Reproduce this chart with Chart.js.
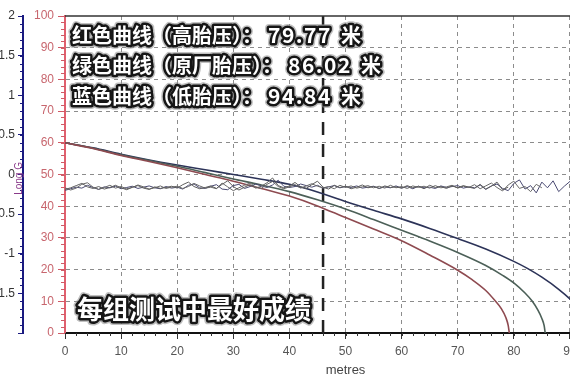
<!DOCTYPE html>
<html><head><meta charset="utf-8">
<script src="https://cdn.jsdelivr.net/npm/chart.js@4/dist/chart.umd.min.js"></script>
<style>
html,body{margin:0;padding:0;overflow:hidden;background:#fff;width:570px;height:380px}
#c{position:absolute;left:0;top:0}
</style></head>
<body><canvas id="c" width="631" height="380"></canvas>
<script>
// ---- data ----
const redDist   = [0,5,10,15,20,25,30,35,40,45,50,55,60,65,70,72.5,75,76.6,77.8,78.6,79.0,79.2];
const redSpeed  = [60,58.2,56.0,54.1,52.1,50.0,47.9,45.6,43.2,40.1,36.4,32.8,29.1,24.6,19.8,16.9,13.4,10.3,7.6,4.8,2.4,0];
const greenDist = [0,5,10,15,20,25,30,35,40,45,50,55,60,65,70,75,78,80,82,83.3,84.3,85,85.4,85.6];
const greenSpeed= [60,58.3,56.2,54.4,52.6,50.6,48.6,46.7,44.6,42.0,39.1,35.8,32.4,29.0,25.4,21.3,18.2,15.8,12.6,10.0,7.2,4.6,2.4,0];
const blueDist  = [0,5,10,15,20,25,30,35,40,45,50,55,60,65,70,75,80,82.5,85,88,90.3,92.5,94,94.84];
const blueSpeed = [60,58.4,56.4,54.6,53.0,51.5,50.0,48.5,46.9,44.5,41.5,38.7,36.0,33.0,29.8,26.5,22.6,20.3,17.6,13.8,10.3,6.3,2.8,0];

const noiseStep = 1; // metres between samples
const noise1 = [45.3,45.8,46.5,47.2,46.1,45.6,46.2,45.4,45.9,46.6,
45.8,45.2,46.0,46.5,45.7,45.3,46.1,45.6,45.9,46.3,
45.7,46.8,47.6,46.2,45.5,45.9,46.4,45.6,46.9,48.0,
46.2,45.1,46.0,46.8,45.7,46.3,47.4,48.9,46.5,45.8,
46.4,47.5,46.1,45.6,46.8,47.9,46.0,45.4,46.6,45.9,
46.3,45.5,46.0,46.7,45.8,46.2,45.6,46.4,45.9,46.1,
45.7,46.5,45.8,46.3,45.5,46.6,45.9,46.2,45.6,46.4,
45.8,46.5,46.0,45.6,46.9,45.4,46.3,47.6,45.2,46.0];
const noise2 = [45.8,45.1,45.7,46.9,47.4,46.0,45.3,45.9,46.6,45.7,
46.2,45.5,45.9,46.7,46.1,45.4,45.8,46.4,45.6,46.0,
46.3,45.6,46.2,47.2,46.4,45.7,46.0,45.5,47.3,46.1,
44.9,45.8,46.6,47.3,46.0,45.6,46.9,47.8,46.2,45.5,
46.1,46.8,45.7,46.4,47.1,46.3,45.8,46.2,45.5,46.6,
45.9,46.4,45.7,46.1,46.5,45.8,46.3,45.7,46.6,45.8,
46.2,45.6,46.4,45.9,46.3,45.7,46.5,45.8,46.1,46.6,
45.7,46.3,45.9,46.8,45.5,46.4,47.3,45.9,44.8,46.7,
47.9,45.6,46.2,44.6,46.9,45.8];
const noise3 = [45.0,45.5,46.0,45.7,46.6,45.9,45.3,46.1,45.8,46.3,
45.5,45.9,46.3,45.6,46.0,46.4,45.8,45.5,46.2,45.7,
46.0,45.4,46.6,47.0,45.8,45.6,46.3,46.8,45.4,45.2,
46.5,46.9,45.6,46.2,47.0,46.4,45.9,46.7,48.2,46.3,
45.9,46.2,47.0,46.5,46.0,46.6,45.7,46.1,46.5,45.8,
46.2,45.9,46.4,45.7,46.0,46.3,45.6,46.1,45.8,46.4,
45.7,46.2,45.5,46.3,45.8,46.0,45.6,46.4,45.9,46.2,
46.5,45.7,46.1,45.8,46.7,45.3,46.4,47.0,45.6,44.9,
47.2,48.3,45.4,46.5,44.2,47.6,45.8,48.0,44.6,46.3,
47.8,45.2,46.9,45.5,46.0];

const markerDist = 46;
// each overlay line: [label part, number part, unit]
const overlayLines = [
  ['红色曲线（高胎压）：', '79.77', '米'],
  ['绿色曲线（原厂胎压）：', '86.02', '米'],
  ['蓝色曲线（低胎压）：', '94.84', '米']
];
const footerText = '每组测试中最好成绩';
const xTitle = 'metres';
const gTitle = 'Long G';

// ---- build ----
const pts = (xs, ys) => xs.map((x, i) => ({x, y: ys[i]}));
const npts = arr => arr.map((y, i) => ({x: i * noiseStep, y}));
const FONT = 'Liberation Sans';
const CJK = '"Noto Sans CJK SC"';

const decor = {
  id: 'decor',
  afterDatasetsDraw(chart) {
    const {ctx, chartArea: a, scales: {x, y, y2}} = chart;
    ctx.save();
    ctx.strokeStyle = '#333'; ctx.lineWidth = 1.5;
    ctx.beginPath(); ctx.moveTo(a.left, a.top); ctx.lineTo(a.right, a.top); ctx.stroke();
    ctx.lineWidth = 1;
    ctx.strokeStyle = '#333';
    for (let v = 0; v <= 100; v += 2) {
      const px = Math.round(x.getPixelForValue(v)) + 0.5;
      ctx.beginPath(); ctx.moveTo(px, a.bottom); ctx.lineTo(px, a.bottom + 3); ctx.stroke();
    }
    ctx.strokeStyle = '#d05a66';
    for (let v = 0; v <= 100; v += 2) {
      const py = Math.round(y.getPixelForValue(v)) + 0.5;
      ctx.beginPath(); ctx.moveTo(a.left - 4, py); ctx.lineTo(a.left, py); ctx.stroke();
    }
    ctx.strokeStyle = '#1a1a80';
    const bx = y2.right;
    for (let v = -2; v <= 2.001; v += 0.1) {
      const py = Math.round(y2.getPixelForValue(v)) + 0.5;
      ctx.beginPath(); ctx.moveTo(bx - 3, py); ctx.lineTo(bx, py); ctx.stroke();
    }
    ctx.save();
    ctx.translate(bx - 4, y2.getPixelForValue(-0.05));
    ctx.rotate(-Math.PI / 2);
    ctx.fillStyle = '#8a3a8a';
    ctx.font = '10px ' + FONT;
    ctx.textAlign = 'center'; ctx.textBaseline = 'middle';
    ctx.fillText(gTitle, 0, 0);
    ctx.restore();
    ctx.restore();
  },
  afterDraw(chart) {
    const {ctx, chartArea: a} = chart;
    ctx.save();
    ctx.lineJoin = 'round';
    ctx.textBaseline = 'middle';
    const seg = (t, x0, y0, size, spacing) => {
      ctx.font = 'bold ' + size + 'px ' + CJK;
      ctx.letterSpacing = spacing + 'px';
      ctx.strokeStyle = 'rgba(140,140,140,0.55)'; ctx.lineWidth = 8;
      ctx.strokeText(t, x0, y0);
      ctx.strokeStyle = '#161616'; ctx.lineWidth = 5;
      ctx.strokeText(t, x0, y0);
      ctx.fillStyle = '#fff';
      ctx.fillText(t, x0, y0);
      const w = ctx.measureText(t).width;
      ctx.letterSpacing = '0px';
      return x0 + w;
    };
    overlayLines.forEach((parts, i) => {
      const yy = a.top + 19 + i * 30.5;
      let xx = seg(parts[0], a.left + 7, yy, 20, 0);
      xx = seg(parts[1], xx + 6, yy, 21, 1.5);
      seg(parts[2], xx + 9, yy, 20, 0);
    });
    seg(footerText, a.left + 12, a.bottom - 24, 26, 0);
    ctx.restore();
  }
};

new Chart(document.getElementById('c'), {
  type: 'line',
  data: {
    datasets: [
      {data: npts(noise1), borderColor: '#5e5e5e', borderWidth: 1, pointRadius: 0, tension: 0},
      {data: npts(noise2), borderColor: '#6a6a6a', borderWidth: 1, pointRadius: 0, tension: 0},
      {data: npts(noise3), borderColor: '#4a4a72', borderWidth: 1, pointRadius: 0, tension: 0},
      {data: pts(redDist, redSpeed), borderColor: '#8e4a50', borderWidth: 1.6, pointRadius: 0, cubicInterpolationMode: 'monotone'},
      {data: pts(greenDist, greenSpeed), borderColor: '#4c6058', borderWidth: 1.6, pointRadius: 0, cubicInterpolationMode: 'monotone'},
      {data: pts(blueDist, blueSpeed), borderColor: '#2c3358', borderWidth: 1.6, pointRadius: 0, cubicInterpolationMode: 'monotone'},
      {data: [{x: markerDist, y: 0}, {x: markerDist, y: 100}], borderColor: '#222', borderWidth: 2.5, borderDash: [13, 9], pointRadius: 0}
    ]
  },
  options: {
    responsive: false,
    devicePixelRatio: 1,
    animation: false,
    events: [],
    layout: {padding: {top: 16, right: 0, left: 0, bottom: 0}},
    plugins: {legend: {display: false}, tooltip: {enabled: false}},
    scales: {
      x: {
        type: 'linear', position: 'bottom', min: 0, max: 100,
        ticks: {stepSize: 10, color: '#555', font: {family: FONT, size: 12}, padding: 5, maxRotation: 0, autoSkip: false,
          callback: v => v >= 100 ? '' : v},
        grid: {color: c => (c.tick && c.tick.value === 0) ? 'rgba(0,0,0,0)' : '#8c8c8c', lineWidth: 1, tickLength: 6, tickColor: '#333'},
        border: {color: '#111', width: 2, dash: [4, 4]},
        title: {display: true, text: xTitle, color: '#444', font: {family: FONT, size: 13}, padding: {top: 0, bottom: 2}},
        afterFit: s => { s.height = 47; }
      },
      y: {
        position: 'left', min: 0, max: 100, weight: 0,
        ticks: {stepSize: 10, color: '#c8666e', font: {family: FONT, size: 12}, padding: 4},
        grid: {color: c => (c.tick && (c.tick.value === 0 || c.tick.value === 100)) ? 'rgba(0,0,0,0)' : '#8c8c8c', lineWidth: 1, tickLength: 7, tickColor: '#d05a66'},
        border: {color: '#e0606e', width: 2, dash: [4, 4]},
        afterFit: s => { s.width = 42; }
      },
      y2: {
        position: 'left', min: -2, max: 2, weight: 10,
        ticks: {stepSize: 0.5, color: '#333', font: {family: FONT, size: 12}, padding: 3, callback: v => v <= -2 ? '' : v},
        grid: {drawOnChartArea: false, tickLength: 5, tickColor: '#1a1a80'},
        border: {color: '#1a1a80', width: 2},
        afterFit: s => { s.width = 23; }
      }
    }
  },
  plugins: [decor]
});
</script>
</body></html>
